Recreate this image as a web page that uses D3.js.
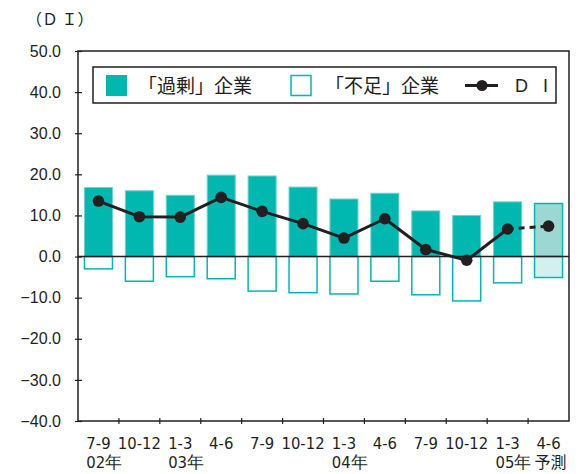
<!DOCTYPE html>
<html>
<head>
<meta charset="utf-8">
<script src="https://cdn.jsdelivr.net/npm/d3@7"></script>
<style>
  body { margin: 0; background: #fff; }
  svg { display: block; }
  text { fill: #231f20; }
</style>
</head>
<body>
<div id="chart"></div>
<script>
// quarter labels, year labels under some quarters
const quarters = ['7-9', '10-12', '1-3', '4-6', '7-9', '10-12', '1-3', '4-6', '7-9', '10-12', '1-3', '4-6'];
const years = ['02年', '', '03年', '', '', '', '04年', '', '', '', '05年', '予測'];
const surplus = [16.8, 16.0, 14.9, 19.8, 19.6, 16.9, 14.0, 15.4, 11.1, 10.0, 13.3, 12.9];
const shortage = [-3.0, -6.0, -4.9, -5.4, -8.4, -8.8, -9.1, -6.0, -9.3, -10.8, -6.4, -5.1];
const di = [13.5, 9.7, 9.6, 14.4, 11.0, 8.0, 4.5, 9.2, 1.7, -0.9, 6.7, 7.4];
const yTicks = [50, 40, 30, 20, 10, 0, -10, -20, -30, -40];
const forecastIndex = 11;

const W = 581, H = 474;
const plotLeft = 78, plotRight = 569, plotTop = 51, plotBottom = 421;
const teal = '#00b8b0';
const ink = '#231f20';
const cjk = '"Noto Sans CJK JP", "Noto Sans", sans-serif';

const svg = d3.select('#chart').append('svg')
  .attr('width', W)
  .attr('height', H);

const idx = d3.range(quarters.length);

const x = d3.scaleBand().domain(idx).range([plotLeft, plotRight]).paddingInner(0.315).paddingOuter(0.1575);
const y = d3.scaleLinear().domain([-40, 50]).range([plotBottom, plotTop]);

// bars
const bars = svg.append('g');

bars.selectAll('rect.pos').data(idx).enter().append('rect')
  .attr('class', 'pos')
  .attr('x', i => x(i))
  .attr('width', x.bandwidth())
  .attr('y', i => y(surplus[i]))
  .attr('height', i => y(0) - y(surplus[i]))
  .attr('fill', i => i == forecastIndex ? '#9dd7d3' : teal)
  .attr('stroke', i => i == forecastIndex ? teal : '#6fd2cc')
  .attr('stroke-width', i => i == forecastIndex ? 1.5 : 1);

bars.selectAll('rect.neg').data(idx).enter().append('rect')
  .attr('class', 'neg')
  .attr('x', i => x(i))
  .attr('width', x.bandwidth())
  .attr('y', y(0))
  .attr('height', i => y(shortage[i]) - y(0))
  .attr('fill', i => i == forecastIndex ? '#d5efec' : '#fff')
  .attr('stroke', teal)
  .attr('stroke-width', 1.5);

// zero line
svg.append('line')
  .attr('x1', plotLeft).attr('x2', plotRight)
  .attr('y1', y(0)).attr('y2', y(0))
  .attr('stroke', ink)
  .attr('stroke-width', 1.5);

// frame
svg.append('rect')
  .attr('x', plotLeft).attr('y', plotTop)
  .attr('width', plotRight - plotLeft).attr('height', plotBottom - plotTop)
  .attr('fill', 'none')
  .attr('stroke', ink)
  .attr('stroke-width', 1.5);

// y axis
const yAxis = d3.axisLeft(y)
  .tickValues(yTicks)
  .tickSize(3)
  .tickPadding(14)
  .tickFormat(d => (d < 0 ? '\u2212' + Math.abs(d).toFixed(1) : d.toFixed(1)));

const gy = svg.append('g')
  .attr('transform', 'translate(' + plotLeft + ',0)')
  .call(yAxis);
gy.select('.domain').remove();
gy.selectAll('.tick line')
  .attr('x1', -3).attr('x2', 4)
  .attr('stroke', ink)
  .attr('stroke-width', 1.2);
gy.selectAll('.tick text')
  .attr('font-family', '"Liberation Sans", Arial, sans-serif')
  .attr('font-size', '16px')
  .attr('fill', ink);

// x ticks at category boundaries
const bounds = d3.range(1, quarters.length);
svg.append('g').selectAll('line').data(bounds).enter().append('line')
  .attr('x1', b => x(b) - x.step() * x.paddingInner() / 2)
  .attr('x2', b => x(b) - x.step() * x.paddingInner() / 2)
  .attr('y1', plotBottom - 3)
  .attr('y2', plotBottom + 3)
  .attr('stroke', ink)
  .attr('stroke-width', 1.2);

// x labels
const labels = svg.append('g')
  .attr('font-family', '"Liberation Sans Narrow", "DejaVu Sans Condensed", sans-serif')
  .attr('font-size', '16.5px');

const qText = labels.selectAll('text.q').data(idx).enter().append('text')
  .attr('class', 'q')
  .attr('x', i => x(i) + x.bandwidth() / 2)
  .attr('y', 449)
  .attr('text-anchor', 'middle')
  .text(i => quarters[i]);

qText.each(function (i) {
  if (!years[i]) return;
  const bb = this.getBBox();
  const forecast = i == forecastIndex;
  labels.append('text')
    .attr('x', forecast ? bb.x - 2 : bb.x)
    .attr('y', 468)
    .attr('font-family', forecast ? cjk : null)
    .attr('font-size', forecast ? '16px' : null)
    .text(years[i]);
});

// unit label
svg.append('text')
  .attr('x', 26)
  .attr('y', 25)
  .attr('font-family', cjk)
  .attr('font-size', '16px')
  .text('（Ｄ Ｉ）');

// DI line
const line = d3.line()
  .x(i => x(i) + x.bandwidth() / 2)
  .y(i => y(di[i]));

svg.append('path')
  .datum(idx.slice(0, forecastIndex))
  .attr('d', line)
  .attr('fill', 'none')
  .attr('stroke', ink)
  .attr('stroke-width', 3)
  .attr('stroke-linejoin', 'round');

svg.append('path')
  .datum([forecastIndex - 1, forecastIndex])
  .attr('d', line)
  .attr('fill', 'none')
  .attr('stroke', ink)
  .attr('stroke-width', 3)
  .attr('stroke-dasharray', '6,5');

svg.append('g').selectAll('circle').data(idx).enter().append('circle')
  .attr('cx', i => x(i) + x.bandwidth() / 2)
  .attr('cy', i => y(di[i]))
  .attr('r', 5.8)
  .attr('fill', ink);

// legend
const legend = svg.append('g');
legend.append('rect')
  .attr('x', 93).attr('y', 67)
  .attr('width', 463).attr('height', 36)
  .attr('fill', '#fff')
  .attr('stroke', ink)
  .attr('stroke-width', 1.5);

legend.append('rect')
  .attr('x', 106).attr('y', 75)
  .attr('width', 21).attr('height', 21)
  .attr('fill', teal);

legend.append('text')
  .attr('x', 138).attr('y', 93)
  .attr('font-family', cjk)
  .attr('font-size', '19px')
  .text('「過剰」企業');

legend.append('rect')
  .attr('x', 291).attr('y', 75.5)
  .attr('width', 20).attr('height', 20)
  .attr('fill', '#fff')
  .attr('stroke', teal)
  .attr('stroke-width', 1.5);

legend.append('text')
  .attr('x', 325).attr('y', 93)
  .attr('font-family', cjk)
  .attr('font-size', '19px')
  .text('「不足」企業');

legend.append('line')
  .attr('x1', 465).attr('x2', 498)
  .attr('y1', 85.5).attr('y2', 85.5)
  .attr('stroke', ink)
  .attr('stroke-width', 3);

legend.append('circle')
  .attr('cx', 482).attr('cy', 85.5)
  .attr('r', 5.5)
  .attr('fill', ink);

legend.append('text')
  .attr('x', 515).attr('y', 92)
  .attr('font-family', '"Liberation Sans", Arial, sans-serif')
  .attr('font-size', '18px')
  .attr('letter-spacing', '5px')
  .text('D I');
</script>
</body>
</html>
